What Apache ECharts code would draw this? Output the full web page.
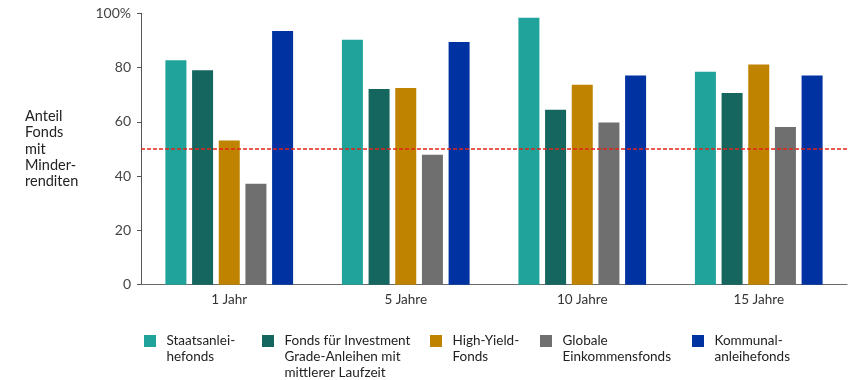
<!DOCTYPE html>
<html>
<head>
<meta charset="utf-8">
<script src="https://cdn.jsdelivr.net/npm/echarts@6/dist/echarts.min.js"></script>
<style>
html,body{margin:0;padding:0;background:#fff;}
#chart{width:856px;height:380px;}
</style>
</head>
<body>
<div id="chart"></div>
<script>
// ---- data ----
var categories = ['1 Jahr', '5 Jahre', '10 Jahre', '15 Jahre'];
var seriesNames = [
  'Staatsanlei-\nhefonds',
  'Fonds für Investment\nGrade-Anleihen mit\nmittlerer Laufzeit',
  'High-Yield-\nFonds',
  'Globale\nEinkommensfonds',
  'Kommunal-\nanleihefonds'
];
var staatsanleihefonds = [82.7, 90.3, 98.4, 78.5];
var investmentGrade = [79.0, 72.1, 64.5, 70.6];
var highYield = [53.1, 72.5, 73.7, 81.1];
var globaleEinkommen = [37.2, 47.9, 59.8, 58.1];
var kommunalanleihe = [93.5, 89.4, 77.1, 77.1];
var referenceLine = 50;
var yTickLabels = ['0', '20', '40', '60', '80', '100%'];
var yAxisTitle = 'Anteil\nFonds\nmit\nMinder-\nrenditen';

// ---- styles ----
var colors = ['#1fa39a', '#15665f', '#bf8300', '#6f6f6f', '#0033a1'];
var FONT = 'Lato, "Open Sans", sans-serif';
var values = [staatsanleihefonds, investmentGrade, highYield, globaleEinkommen, kommunalanleihe];
var legendLeft = [144, 262, 430, 540, 692];
var LH = 16;
var iconCenterY = 341;

var series = values.map(function (v, i) {
  var s = {
    name: seriesNames[i],
    type: 'bar',
    data: v,
    barWidth: 21,
    barGap: '27%',
    itemStyle: { color: colors[i] },
    emphasis: { disabled: true },
    animation: false
  };
  if (i === 0) {
    s.markLine = {
      silent: true,
      symbol: ['none', 'none'],
      label: { show: false },
      lineStyle: { color: '#e2231a', type: [4, 2], width: 1.5 },
      data: [{ yAxis: referenceLine }],
      animation: false
    };
  }
  return s;
});

// Legend: prepend empty lines so that the first text line sits level with the icon
var legends = seriesNames.map(function (name, i) {
  var n = name.split('\n').length;
  var pad = '';
  for (var k = 1; k < n; k++) pad += '\n';
  return {
    data: [name],
    formatter: function (nm) { return pad + nm; },
    left: legendLeft[i],
    top: iconCenterY - (n - 0.5) * LH,
    padding: 0,
    itemWidth: 12,
    itemHeight: 12,
    icon: 'rect',
    selectedMode: false,
    textStyle: {
      fontFamily: FONT,
      fontSize: 13.5,
      color: '#222',
      lineHeight: LH,
      padding: [0, 0, 0, 5.5]
    }
  };
});

var chart = echarts.init(document.getElementById('chart'), null, { renderer: 'canvas' });
chart.setOption({
  animation: false,
  textStyle: { fontFamily: FONT },
  grid: { left: 141, right: 9, top: 13.3, bottom: 95.3, containLabel: false },
  legend: legends,
  xAxis: {
    type: 'category',
    data: categories,
    axisLine: { show: true, lineStyle: { color: '#6a6a6a', width: 1 } },
    axisTick: { show: false },
    axisLabel: { color: '#333', fontSize: 13.5, margin: 8, fontFamily: FONT }
  },
  yAxis: {
    type: 'value',
    min: 0,
    max: 100,
    interval: 20,
    name: yAxisTitle,
    nameLocation: 'middle',
    nameRotate: 0,
    nameGap: 116,
    nameTextStyle: { align: 'left', verticalAlign: 'middle', fontSize: 14.5, lineHeight: 16.2, color: '#222', fontFamily: FONT },
    axisLine: { show: true, lineStyle: { color: '#555', width: 1 } },
    axisTick: { show: true, length: 4, lineStyle: { color: '#555' } },
    splitLine: { show: false },
    axisLabel: {
      color: '#444', fontSize: 14, margin: 10, fontFamily: FONT,
      formatter: function (v) { return yTickLabels[Math.round(v / 20)]; }
    }
  },
  series: series
});
</script>
</body>
</html>
